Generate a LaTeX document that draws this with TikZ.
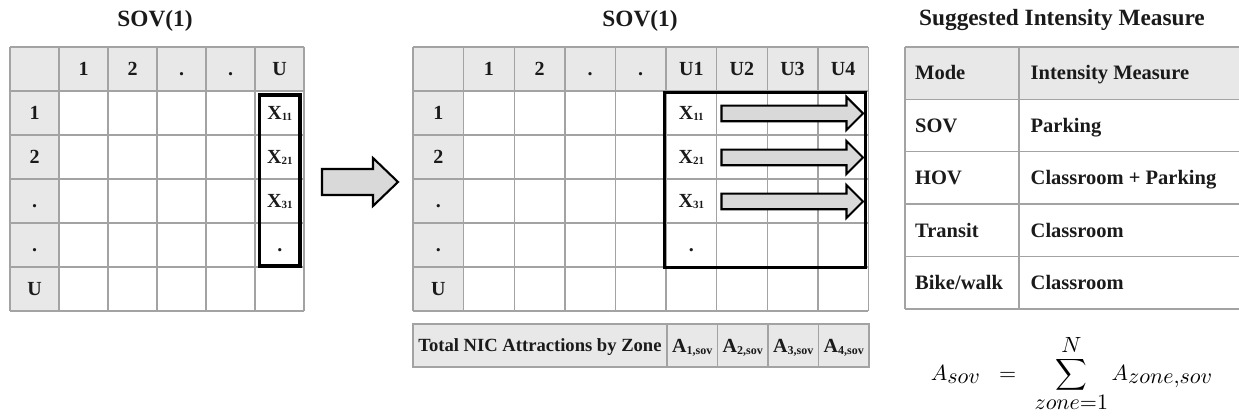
\RequirePackage{fix-cm}
\documentclass[tikz,border=0pt]{standalone}
\usepackage{fontspec}
\setmainfont{Liberation Serif}
\definecolor{hdrc}{HTML}{E8E8E8}
\definecolor{gridc}{HTML}{A3A3A3}
\definecolor{arrc}{HTML}{D9D9D9}
\definecolor{txtc}{HTML}{1A1A1A}
\newcommand{\xsb}[1]{\raisebox{-0.6pt}{\fontsize{11}{11}\selectfont #1}}
\newcommand{\asb}[1]{\raisebox{-2.2pt}{\fontsize{12}{12}\selectfont #1}}
\begin{document}
\begin{tikzpicture}[x=1pt,y=-1pt,
  gridl/.style={draw=gridc,line width=1.4pt},
  hdr/.style={fill=hdrc},
  cell/.style={font=\fontsize{20}{24}\selectfont\bfseries,text=txtc,inner sep=0pt,text height=13.2pt,text depth=0pt},
  rcell/.style={font=\fontsize{20.5}{24}\selectfont\bfseries,text=txtc,inner sep=0pt,text height=13.6pt,text depth=0pt,anchor=west},
  ttl/.style={font=\fontsize{23.3}{28}\selectfont\bfseries,text=txtc,inner sep=0pt,anchor=base},
  selbox/.style={draw=black,line width=3.3pt},
  blockarrow/.style={draw=black,line width=2.1pt,fill=arrc,line join=miter}]
\useasboundingbox (0,0) rectangle (1239,419);

% ---------- titles ----------
\node[ttl] (t1) at (155,27) {SOV(1)};
\node[ttl] (t2) at (640,27) {SOV(1)};
\node[ttl] (t3) at (1062,25.5) {Suggested Intensity Measure};

% ---------- left table ----------
\fill[hdr] (10,47) rectangle (304.3,91);
\fill[hdr] (10,91) rectangle (59,311);
\foreach \i in {0,...,6} \draw[gridl] ({10+49*\i},47) -- ({10+49*\i},311);
\foreach \j in {0,...,6} \draw[gridl] (10,{47+44*\j}) -- (304,{47+44*\j});
\foreach \t [count=\i] in {1,2,.,.,U}
  \node[cell] (Lh\i) at ({10+49*\i+24.5},69) {\t};
\foreach \t [count=\j] in {1,2,.,.,U}
  \node[cell] (Lr\j) at (34.5,{47+44*\j+22}) {\t};
\node[cell] (Lx1) at (279.8,113) {X\xsb{11}};
\node[cell] (Lx2) at (279.8,157) {X\xsb{21}};
\node[cell] (Lx3) at (279.8,201) {X\xsb{31}};
\node[cell] (Lx4) at (279.8,245) {.};
\draw[selbox] (259.5,95) rectangle (300,266);

% ---------- big arrow ----------
\draw[blockarrow] (322,169) -- (373,169) -- (373,158) -- (398,182) -- (373,206) -- (373,195) -- (322,195) -- cycle;

% ---------- middle table ----------
\fill[hdr] (413,47) rectangle (868.4,91);
\fill[hdr] (413,91) rectangle (463.6,311);
\foreach \i in {0,...,9} \draw[gridl] ({413+50.6*\i},47) -- ({413+50.6*\i},311);
\foreach \j in {0,...,6} \draw[gridl] (413,{47+44*\j}) -- (868.4,{47+44*\j});
\foreach \t [count=\i] in {1,2,.,.,U1,U2,U3,U4}
  \node[cell] (Mh\i) at ({413+50.6*\i+25.3},69) {\t};
\foreach \t [count=\j] in {1,2,.,.,U}
  \node[cell] (Mr\j) at (438.3,{47+44*\j+22}) {\t};
\node[cell] (Mx1) at (691.3,113) {X\xsb{11}};
\node[cell] (Mx2) at (691.3,157) {X\xsb{21}};
\node[cell] (Mx3) at (691.3,201) {X\xsb{31}};
\node[cell] (Mx4) at (691.3,245) {.};
\foreach \c in {113.5,157.5,201.5}
  \draw[blockarrow] (721.5,{\c-7.8}) -- (846.5,{\c-7.8}) -- (846.5,{\c-16.5}) -- (863,\c) -- (846.5,{\c+16.5}) -- (846.5,{\c+7.8}) -- (721.5,{\c+7.8}) -- cycle;
\draw[selbox] (664.5,92.5) rectangle (865.5,267.5);

% ---------- bottom row ----------
\fill[hdr] (413,324) rectangle (869,367);
\draw[gridl] (413,324) rectangle (869,367);
\foreach \x in {667,717.5,768,818.5} \draw[gridl] (\x,324) -- (\x,367);
\node[cell,font=\fontsize{18.6}{22}\selectfont\bfseries,text height=12.3pt] (tot) at (540,345.5) {Total NIC Attractions by Zone};
\node[cell] (A1) at (692.2,345.5) {A\asb{1,sov}};
\node[cell] (A2) at (742.7,345.5) {A\asb{2,sov}};
\node[cell] (A3) at (793.2,345.5) {A\asb{3,sov}};
\node[cell] (A4) at (843.7,345.5) {A\asb{4,sov}};

% ---------- right table ----------
\fill[hdr] (905,47) rectangle (1239,99.4);
\foreach \j in {0,...,5} \draw[gridl] (905,{47+52.4*\j}) -- (1240,{47+52.4*\j});
\draw[gridl] (905,47) -- (905,309);
\draw[gridl] (1019,47) -- (1019,309);
\foreach \a/\b [count=\j from 0] in {Mode/Intensity Measure,SOV/Parking,HOV/Classroom + Parking,Transit/Classroom,Bike\slash walk/Classroom}{
  \node[rcell] (Ra\j) at (915,{73.2+52.4*\j}) {\a};
  \node[rcell] (Rb\j) at (1030.5,{73.2+52.4*\j}) {\b};
}

% ---------- formula ----------
\node[inner sep=0pt,anchor=base,scale=2.2,text=black] (formula) at (1072,380)
  {$\displaystyle A_{\textstyle sov} \;\;=\;\; \sum_{\textstyle zone{=}1}^{\textstyle N} A_{\textstyle zone{,}sov}$};
\end{tikzpicture}
\end{document}
